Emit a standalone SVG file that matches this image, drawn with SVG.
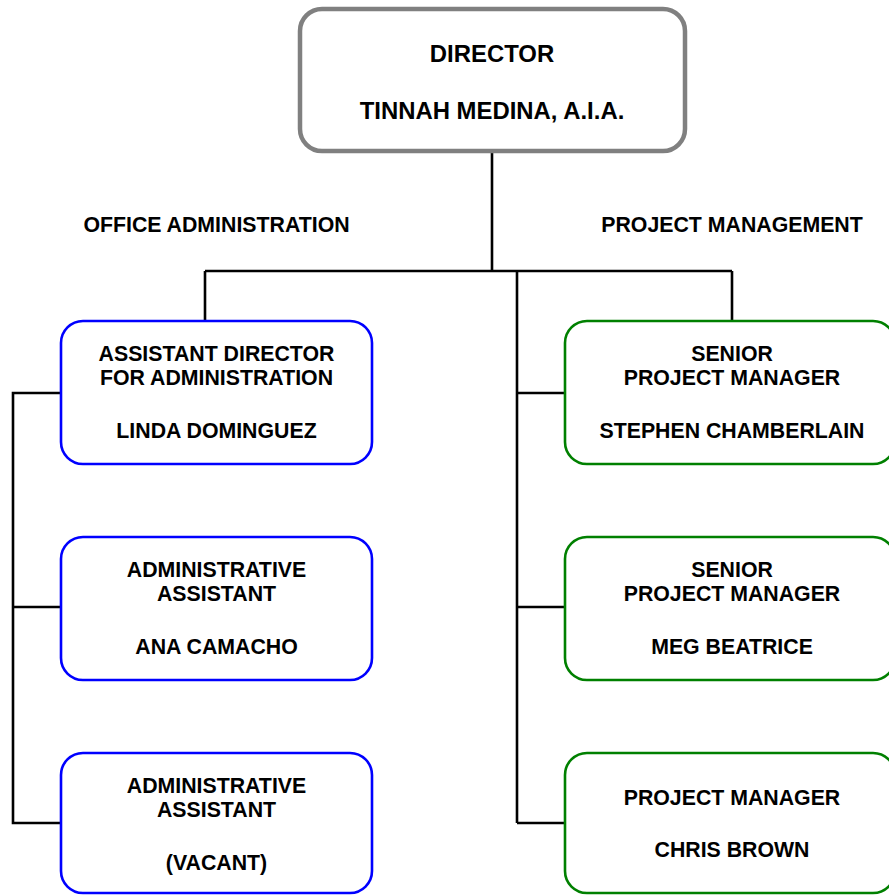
<svg xmlns="http://www.w3.org/2000/svg" width="889" height="895" viewBox="0 0 889 895">
<style>
text{font-family:"Liberation Sans",Arial,sans-serif;font-weight:bold;font-size:21.3px;fill:#000;text-anchor:middle}
.dir{font-size:23.9px}
.box{fill:#fff;stroke-width:2.6}
.admin{stroke:#0000ff}
.pm{stroke:#008000}
.top{fill:#fff;stroke:#808080;stroke-width:4.5}
.conn{fill:none;stroke:#000;stroke-width:2.6}
</style>
<rect width="889" height="895" fill="#fff"/>
<g id="connectors">
<path class="conn" d="M492 151V271M205 271H732M205 271V321M732 271V321M517 271V823M517 393H565M517 607H565M517 823H565M61 393H13V823H61M13 607H61"/>
</g>
<g id="director">
<rect class="top" x="300" y="9" width="385" height="142" rx="22"/>
<text class="dir" x="492" y="61.5">DIRECTOR</text>
<text class="dir" x="492" y="119">TINNAH MEDINA, A.I.A.</text>
</g>
<g id="label-admin"><text x="216.5" y="231.5">OFFICE ADMINISTRATION</text></g>
<g id="label-pm"><text x="732" y="231.5">PROJECT MANAGEMENT</text></g>
<g id="asst-director">
<rect class="box admin" x="61" y="321" width="311" height="143" rx="22"/>
<text x="216.5" y="361">ASSISTANT DIRECTOR</text>
<text x="216.5" y="385">FOR ADMINISTRATION</text>
<text x="216.5" y="437.5">LINDA DOMINGUEZ</text>
</g>
<g id="admin-assistant-1">
<rect class="box admin" x="61" y="537" width="311" height="143" rx="22"/>
<text x="216.5" y="577">ADMINISTRATIVE</text>
<text x="216.5" y="601">ASSISTANT</text>
<text x="216.5" y="653.5">ANA CAMACHO</text>
</g>
<g id="admin-assistant-2">
<rect class="box admin" x="61" y="753" width="311" height="140" rx="22"/>
<text x="216.5" y="793">ADMINISTRATIVE</text>
<text x="216.5" y="817">ASSISTANT</text>
<text x="216.5" y="869.5">(VACANT)</text>
</g>
<g id="senior-pm-1">
<rect class="box pm" x="565" y="321" width="330" height="143" rx="22"/>
<text x="732" y="361">SENIOR</text>
<text x="732" y="385">PROJECT MANAGER</text>
<text x="732" y="437.5">STEPHEN CHAMBERLAIN</text>
</g>
<g id="senior-pm-2">
<rect class="box pm" x="565" y="537" width="330" height="143" rx="22"/>
<text x="732" y="577">SENIOR</text>
<text x="732" y="601">PROJECT MANAGER</text>
<text x="732" y="653.5">MEG BEATRICE</text>
</g>
<g id="pm">
<rect class="box pm" x="565" y="753" width="330" height="140" rx="22"/>
<text x="732" y="805">PROJECT MANAGER</text>
<text x="732" y="856.5">CHRIS BROWN</text>
</g>
</svg>
